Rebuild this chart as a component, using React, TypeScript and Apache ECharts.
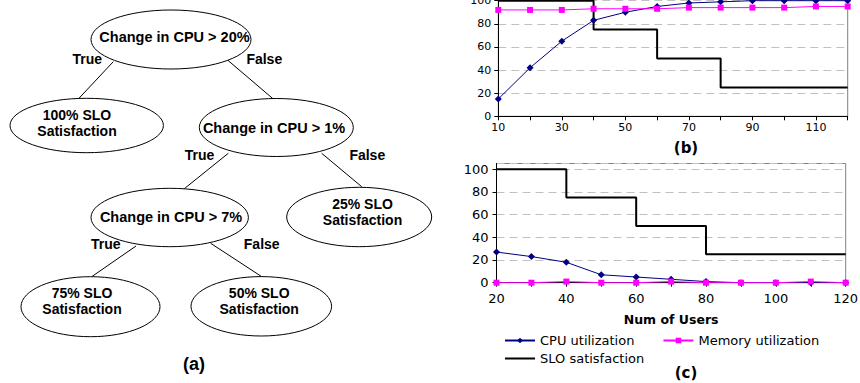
import React, { useEffect, useRef } from 'react';
import * as echarts from 'echarts';

// ---- data: chart (b) ----
const usersB = ['10', '20', '30', '40', '50', '60', '70', '80', '90', '100', '110', '120'];
const cpuB = [15, 42, 65, 83, 90, 95, 98, 99, 100, 100, 100, 100];
const memB = [92, 92, 92, 93, 93, 93, 94, 94, 94, 94, 95, 95];
const sloB = [100, 100, 100, 75, 75, 50, 50, 25, 25, 25, 25, 25];

// ---- data: chart (c) ----
const usersC = ['20', '30', '40', '50', '60', '70', '80', '90', '100', '110', '120'];
const cpuC = [27, 23, 18, 7, 5, 3, 1, 0, 0, 0, 0];
const memC = [0, 0, 1, 0, 0, 1, 0, 0, 0, 1, 0];
const sloC = [100, 100, 75, 75, 50, 50, 25, 25, 25, 25, 25];

const seriesNames = ['CPU utilization', 'Memory utilization', 'SLO satisfaction'];
const xAxisTitle = 'Num of Users';
const panelLabels = ['(a)', '(b)', '(c)'];

// ---- decision tree text ----
const treeNodeTexts = [
  'Change in CPU > 20%',
  '100% SLO\nSatisfaction',
  'Change in CPU > 1%',
  'Change in CPU > 7%',
  '25% SLO\nSatisfaction',
  '75% SLO\nSatisfaction',
  '50% SLO\nSatisfaction',
];
const treeEdgeTexts = ['True', 'False', 'True', 'False', 'True', 'False'];

export default function App() {
  const ref = useRef<HTMLDivElement>(null);

  useEffect(() => {
    if (!ref.current) return;
    const chart = echarts.init(ref.current, null, { renderer: 'svg', width: 860, height: 383 });

    // tree layout (positions / sizes)
    const nodeShapes = [
      { cx: 171, cy: 39.5, rx: 80, ry: 29.5, tx: 174.5, ty: 36.5 },
      { cx: 86.7, cy: 125.5, rx: 76.7, ry: 27.2, tx: 77, ty: 123 },
      { cx: 276.3, cy: 127.5, rx: 77, ry: 29, tx: 274, ty: 128 },
      { cx: 169.7, cy: 217.5, rx: 78.7, ry: 29.2, tx: 171, ty: 216.5 },
      { cx: 359.2, cy: 217, rx: 72.5, ry: 29.7, tx: 362.5, ty: 212 },
      { cx: 90.5, cy: 306.7, rx: 69.5, ry: 30, tx: 82, ty: 301 },
      { cx: 261.3, cy: 306.3, rx: 70.3, ry: 29.7, tx: 259.2, ty: 301 },
    ];
    const edgeLines = [
      [113.3, 61.7, 78.3, 99],
      [226.7, 59.3, 273.3, 99],
      [228.3, 153.3, 182.7, 190],
      [321.7, 153.3, 361.7, 186.7],
      [136, 246, 91.7, 276.7],
      [210.7, 243.3, 263.3, 277.7],
    ];
    const edgeLabelPos = [
      [87.2, 58.5],
      [264.3, 58.5],
      [199.5, 154.5],
      [367.3, 154.5],
      [105.8, 243.5],
      [261.7, 243.5],
    ];

    const treeFont = 'Liberation Sans, Arial, sans-serif';
    const graphics: any[] = [];
    edgeLines.forEach((l) => {
      graphics.push({
        type: 'line',
        shape: { x1: l[0], y1: l[1], x2: l[2], y2: l[3] },
        style: { stroke: '#000', lineWidth: 1 },
      });
    });
    nodeShapes.forEach((n, i) => {
      const twoLine = treeNodeTexts[i].indexOf('\n') >= 0;
      graphics.push({
        type: 'ellipse',
        shape: { cx: n.cx, cy: n.cy, rx: n.rx, ry: n.ry },
        style: { fill: '#fff', stroke: '#000', lineWidth: 1 },
      });
      graphics.push({
        type: 'text',
        x: n.tx,
        y: n.ty,
        style: {
          text: treeNodeTexts[i],
          fill: '#000',
          fontFamily: treeFont,
          fontWeight: 'bold',
          fontSize: twoLine ? 14 : 14.5,
          lineHeight: twoLine ? 16.4 : 17,
          align: 'center',
          verticalAlign: 'middle',
        },
      });
    });
    edgeLabelPos.forEach((p, i) => {
      graphics.push({
        type: 'text',
        x: p[0],
        y: p[1],
        style: {
          text: treeEdgeTexts[i],
          fill: '#000',
          fontFamily: treeFont,
          fontWeight: 'bold',
          fontSize: 14,
          align: 'center',
          verticalAlign: 'middle',
        },
      });
    });
    graphics.push({
      type: 'text',
      x: 194,
      y: 363.5,
      style: {
        text: panelLabels[0],
        fill: '#000',
        fontFamily: treeFont,
        fontWeight: 'bold',
        fontSize: 18,
        align: 'center',
        verticalAlign: 'middle',
      },
    });
    graphics.push({
      type: 'text',
      x: 686,
      y: 147.5,
      style: {
        text: panelLabels[1],
        fill: '#000',
        fontFamily: 'DejaVu Sans',
        fontWeight: 'bold',
        fontSize: 15,
        align: 'center',
        verticalAlign: 'middle',
      },
    });
    graphics.push({
      type: 'text',
      x: 686,
      y: 373,
      style: {
        text: panelLabels[2],
        fill: '#000',
        fontFamily: 'DejaVu Sans',
        fontWeight: 'bold',
        fontSize: 15,
        align: 'center',
        verticalAlign: 'middle',
      },
    });

    const chartFont = 'DejaVu Sans';
    const mkX = (data: string[], gridIndex: number, fs: number, margin: number, withName: boolean) => ({
      type: 'category',
      gridIndex,
      data,
      boundaryGap: false,
      axisLine: { show: true, lineStyle: { color: '#000', width: 1 } },
      axisTick: { show: true, length: 4, interval: 0, lineStyle: { color: '#000' } },
      axisLabel: { interval: 1, color: '#000', fontFamily: chartFont, fontSize: fs, margin },
      splitLine: { show: false },
      name: withName ? xAxisTitle : '',
      nameLocation: 'middle',
      nameGap: 30,
      nameTextStyle: { color: '#000', fontFamily: chartFont, fontWeight: 'bold', fontSize: 12.5 },
    });
    const mkY = (gridIndex: number, fs: number, margin: number) => ({
      type: 'value',
      gridIndex,
      min: 0,
      max: 105,
      interval: 20,
      axisLine: { show: true, lineStyle: { color: '#000', width: 1 } },
      axisTick: { show: true, length: 4, lineStyle: { color: '#000' } },
      axisLabel: { color: '#000', fontFamily: chartFont, fontSize: fs, margin, showMaxLabel: false },
      splitLine: { show: true, lineStyle: { color: '#c0c0c0', type: [8, 5], width: 1 } },
    });

    const cpuStyle = (xi: number, data: number[]) => ({
      name: seriesNames[0],
      type: 'line',
      xAxisIndex: xi,
      yAxisIndex: xi,
      data,
      symbol: 'diamond',
      symbolSize: 7,
      itemStyle: { color: '#000080' },
      lineStyle: { color: '#000080', width: 1 },
      z: 3,
    });
    const memStyle = (xi: number, data: number[]) => ({
      name: seriesNames[1],
      type: 'line',
      xAxisIndex: xi,
      yAxisIndex: xi,
      data,
      symbol: 'rect',
      symbolSize: 6,
      itemStyle: { color: '#ff00ff' },
      lineStyle: { color: '#ff00ff', width: 1 },
      z: 4,
    });
    const sloStyle = (xi: number, data: number[]) => ({
      name: seriesNames[2],
      type: 'line',
      xAxisIndex: xi,
      yAxisIndex: xi,
      data,
      step: 'end',
      showSymbol: false,
      symbol: 'none',
      itemStyle: { color: '#000' },
      lineStyle: { color: '#000', width: 2 },
      z: 2,
    });

    const option: any = {
      animation: false,
      backgroundColor: '#fff',
      textStyle: { fontFamily: chartFont },
      grid: [
        {
          left: 498.3,
          top: -5.1,
          width: 349.4,
          height: 121.4,
          outerBoundsMode: 'none',
          containLabel: false,
          show: true,
          borderColor: '#808080',
          borderWidth: 1,
          backgroundColor: 'transparent',
        },
        {
          left: 496.5,
          top: 163.5,
          width: 349.2,
          height: 119.2,
          outerBoundsMode: 'none',
          containLabel: false,
          show: true,
          borderColor: '#808080',
          borderWidth: 1,
          backgroundColor: 'transparent',
        },
      ],
      xAxis: [mkX(usersB, 0, 11, 6, false), mkX(usersC, 1, 13, 9, true)],
      yAxis: [mkY(0, 11, 7), mkY(1, 13, 8)],
      legend: [
        {
          data: [seriesNames[0], seriesNames[1]],
          left: 504,
          top: 334,
          itemWidth: 30,
          itemHeight: 7,
          itemGap: 28,
          padding: 0,
          textStyle: { color: '#000', fontFamily: chartFont, fontSize: 13 },
        },
        {
          data: [{ name: seriesNames[2], itemStyle: { opacity: 0 } }],
          left: 504,
          top: 352,
          itemWidth: 30,
          itemHeight: 7,
          padding: 0,
          textStyle: { color: '#000', fontFamily: chartFont, fontSize: 13 },
        },
      ],
      series: [
        cpuStyle(0, cpuB),
        memStyle(0, memB),
        sloStyle(0, sloB),
        cpuStyle(1, cpuC),
        memStyle(1, memC),
        sloStyle(1, sloC),
      ],
      graphic: graphics,
    };

    chart.setOption(option);
    return () => chart.dispose();
  }, []);

  return (
    <div
      ref={ref}
      style={{ position: 'fixed', left: 0, top: 0, width: 860, height: 383, background: '#fff' }}
    />
  );
}
